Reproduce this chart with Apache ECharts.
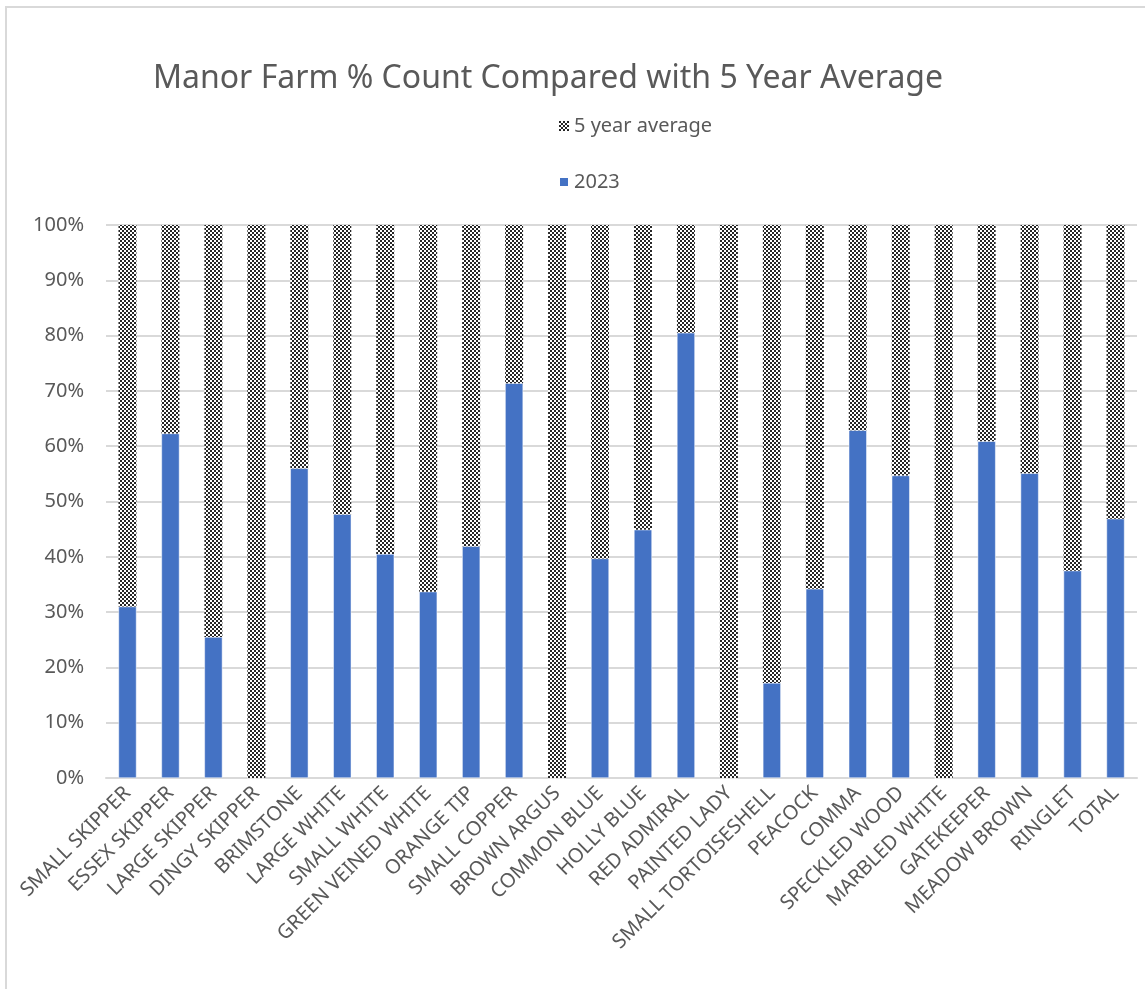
<!DOCTYPE html>
<html>
<head>
<meta charset="utf-8">
<script src="https://cdn.jsdelivr.net/npm/echarts@6/dist/echarts.min.js"></script>
<style>
  html, body { margin: 0; padding: 0; background: #fff; }
  #chart { width: 1145px; height: 989px; }
  #frame { position: absolute; left: 5px; top: 6px; width: 1140px; height: 983px;
           border-left: 2px solid #d9d9d9; border-top: 2px solid #d9d9d9; pointer-events: none; }
</style>
</head>
<body>
<div id="chart"></div>
<div id="frame"></div>
<script>
const species = ['SMALL SKIPPER', 'ESSEX SKIPPER', 'LARGE SKIPPER', 'DINGY SKIPPER', 'BRIMSTONE',
  'LARGE WHITE', 'SMALL WHITE', 'GREEN VEINED WHITE', 'ORANGE TIP', 'SMALL COPPER', 'BROWN ARGUS',
  'COMMON BLUE', 'HOLLY BLUE', 'RED ADMIRAL', 'PAINTED LADY', 'SMALL TORTOISESHELL', 'PEACOCK',
  'COMMA', 'SPECKLED WOOD', 'MARBLED WHITE', 'GATEKEEPER', 'MEADOW BROWN', 'RINGLET', 'TOTAL'];

// share of 2023 count (%)
const share2023 = [31.0, 62.3, 25.5, 0, 56.0, 47.7, 40.5, 33.7, 41.9, 71.4, 0, 39.7,
  44.9, 80.5, 0, 17.2, 34.2, 62.9, 54.7, 0, 60.9, 55.1, 37.5, 46.9];
// share of 5 year average (%)
const shareAvg = [69.0, 37.7, 74.5, 100, 44.0, 52.3, 59.5, 66.3, 58.1, 28.6, 100, 60.3,
  55.1, 19.5, 100, 82.8, 65.8, 37.1, 45.3, 100, 39.1, 44.9, 62.5, 53.1];

// checker pattern like the excel fill
const cv = document.createElement('canvas');
cv.width = 4; cv.height = 4;
const ctx = cv.getContext('2d');
ctx.fillStyle = '#ffffff';
ctx.fillRect(0, 0, 4, 4);
ctx.fillStyle = '#262626';
ctx.fillRect(0, 0, 2, 2);
ctx.fillRect(2, 2, 2, 2);
const checker = { image: cv, repeat: 'repeat' };

const font = 'Noto Sans';
const chart = echarts.init(document.getElementById('chart'));
chart.setOption({
  animation: false,
  title: {
    text: 'Manor Farm % Count Compared with 5 Year Average',
    left: 148,
    top: 58,
    textStyle: { fontFamily: font, fontSize: 32, fontWeight: 'normal', color: '#595959' }
  },
  legend: {
    data: ['5 year average', '2023'],
    orient: 'vertical',
    left: 553,
    top: 111,
    itemGap: 36,
    itemWidth: 10,
    itemHeight: 10,
    icon: 'rect',
    textStyle: { fontFamily: font, fontSize: 20, color: '#595959' }
  },
  grid: { left: 106, right: 8, top: 225, bottom: 211 },
  xAxis: {
    type: 'category',
    data: species,
    axisLine: { lineStyle: { color: '#d9d9d9', width: 2 } },
    axisTick: { show: false },
    axisLabel: {
      interval: 0,
      rotate: 45,
      margin: 12,
      fontFamily: font,
      fontSize: 20,
      color: '#595959'
    }
  },
  yAxis: {
    type: 'value',
    min: 0,
    max: 100,
    interval: 10,
    axisLine: { show: false },
    axisTick: { show: false },
    splitLine: { lineStyle: { color: '#d9d9d9', width: 2 } },
    axisLabel: {
      formatter: '{value}%',
      margin: 22,
      fontFamily: font,
      fontSize: 20,
      color: '#595959'
    }
  },
  series: [
    {
      name: '2023',
      type: 'bar',
      stack: 'all',
      barWidth: 18,
      data: share2023,
      itemStyle: { color: '#4472C4', borderColor: '#ffffff', borderWidth: 0.5 }
    },
    {
      name: '5 year average',
      type: 'bar',
      stack: 'all',
      barWidth: 18,
      data: shareAvg,
      itemStyle: { color: checker }
    }
  ]
});
</script>
</body>
</html>
